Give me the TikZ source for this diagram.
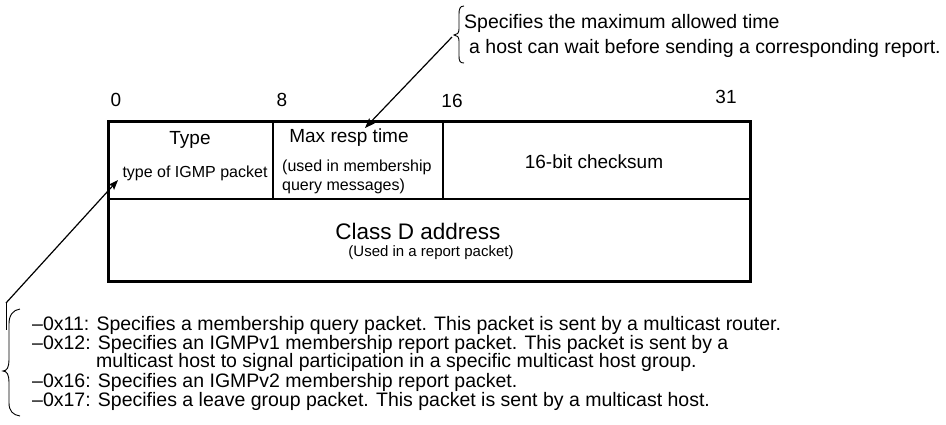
\documentclass[tikz,border=0pt]{standalone}
\usepackage{fontspec}
\setmainfont{Liberation Sans}
\usetikzlibrary{arrows.meta}
\begin{document}
\begin{tikzpicture}[x=1pt,y=-1pt,
  lbl/.style={inner sep=0pt,font=\fontsize{19}{22}\selectfont},
  big/.style={inner sep=0pt,font=\fontsize{22.5}{26}\selectfont},
  sub/.style={inner sep=0pt,font=\fontsize{16}{18.5}\selectfont},
  small/.style={inner sep=0pt,font=\fontsize{15}{18}\selectfont},
  note/.style={inner sep=0pt,anchor=base west,font=\fontsize{19.5}{22}\selectfont},
  frame/.style={line width=3pt},
  cellline/.style={line width=2.7pt},
  pointer/.style={line width=1.2pt,-{Stealth[length=10pt,width=7.5pt,inset=2pt]}},
  bracepath/.style={line width=0.9pt}]
\useasboundingbox (0,0) rectangle (946,424);

% packet frame
\draw[frame] (108,121) rectangle (750,281);
\draw[cellline] (108,199) -- (750,199);
\draw[cellline] (273,121) -- (273,199);
\draw[cellline] (443,121) -- (443,199);

% bit positions
\node[lbl] (b0) at (116,100) {0};
\node[lbl] (b8) at (282,100) {8};
\node[lbl] (b16) at (452,101) {16};
\node[lbl] (b31) at (726,97) {31};

% cell texts
\node[lbl] (type) at (190,140) {Type};
\node[sub] (typedesc) at (195,173) {type of IGMP packet};
\node[lbl] (maxresp) at (349,138) {Max resp time};
\node[sub,anchor=west,align=left] (maxdesc) at (282,177) {(used in membership\\query messages)};
\node[lbl] (cksum) at (594,162) {16-bit checksum};
\node[big] (classd) at (418,231) {Class D address};
\node[small] (classdesc) at (431,253) {(Used in a report packet)};

% top annotation
\node[note] (top1) at (464,28) {Specifies the maximum allowed time};
\node[note] (top2) at (469,53) {a host can wait before sending a corresponding report.};
\draw[bracepath] (464,6) .. controls (460,6) and (459,9) .. (459,14) -- (459,29)
  .. controls (459,33) and (457,35) .. (454,35)
  .. controls (457,35) and (459,37) .. (459,41) -- (459,56)
  .. controls (459,61) and (460,63) .. (464,63);
\coordinate (topcusp) at (452,37);
\coordinate (mrtip) at (365,128);
\draw[pointer] (topcusp) -- (mrtip);

% bottom annotation
\node[note] (l1) at (32,330) {–0x11: Specifies a membership query packet. This packet is sent by a multicast router.};
\node[note] (l2) at (32,349) {–0x12: Specifies an IGMPv1 membership report packet. This packet is sent by a};
\node[note] (l3) at (32,367) {\hphantom{–0x12:} multicast host to signal participation in a specific multicast host group.};
\node[note] (l4) at (32,387) {–0x16: Specifies an IGMPv2 membership report packet.};
\node[note] (l5) at (32,406) {–0x17: Specifies a leave group packet. This packet is sent by a multicast host.};
\draw[bracepath] (20,309) .. controls (13,310) and (9,315) .. (9,324) -- (9,360)
  .. controls (9,367) and (7,371) .. (3,371)
  .. controls (7,371) and (9,375) .. (9,382) -- (9,403)
  .. controls (9,411) and (13,415) .. (20,416);
\coordinate (lowtail) at (6,303);
\coordinate (typetip) at (118,180);
\draw[pointer] (lowtail) -- (typetip);
\draw[bracepath] (lowtail) -- (6,330);
\end{tikzpicture}
\end{document}
